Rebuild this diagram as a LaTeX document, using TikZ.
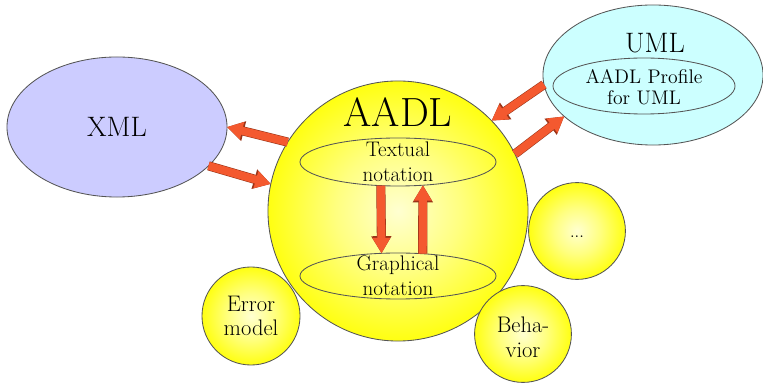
\documentclass[tikz,border=0pt]{standalone}
\usetikzlibrary{arrows.meta,positioning,shapes.geometric}
\definecolor{xmlblue}{HTML}{CCCCFF}
\definecolor{umlcyan}{HTML}{CCFFFF}
\definecolor{arrowred}{HTML}{F4592F}
\definecolor{arrowdark}{HTML}{9A3418}
\definecolor{rimgrey}{HTML}{555555}
\pgfdeclareradialshading{yellowball}{\pgfpoint{0bp}{0bp}}{color(0bp)=(yellow!18!white); color(12bp)=(yellow!50!white); color(27bp)=(yellow); color(50bp)=(yellow)}

\begin{document}
\begin{tikzpicture}[x=0.025cm,y=-0.025cm,
      ball/.style={circle,draw=rimgrey,line width=0.6pt,shading=yellowball,inner sep=0pt,outer sep=0pt},
      oval/.style={ellipse,draw=rimgrey,line width=0.6pt,inner sep=0pt,outer sep=0pt},
      lbl/.style={align=center,inner sep=0pt},
      blockarrow/.style={draw=arrowred,line width=5.7pt,-{Triangle[width=12pt,length=11pt]},
        preaction={draw=arrowdark,line width=6.5pt,-{Triangle[width=13.6pt,length=12.2pt]}}}]
    \useasboundingbox (0,0) rectangle (763,385);
    % outer languages
    \node[oval,fill=xmlblue,minimum width=5.5cm,minimum height=3.5cm,font=\fontsize{20}{22}\selectfont] (xml) at (117,127) {XML};
    \node[oval,fill=umlcyan,minimum width=5.5cm,minimum height=3.5cm] (uml) at (653,75) {};
    \node[lbl,font=\fontsize{20}{22}\selectfont] (umltitle) at (655,43) {UML};
    \node[oval,minimum width=4.55cm,minimum height=1.4cm] (profile) at (644,86) {};
    \node[lbl,font=\fontsize{14}{15}\selectfont] (profiletext) at (644,87) {AADL Profile\\for UML};
    % AADL core and annexes
    \node[ball,minimum size=6.5cm] (aadl) at (398,211) {};
    \node[ball,minimum size=2.45cm] (error) at (251,316) {};
    \node[ball,minimum size=2.42cm] (behavior) at (523,334) {};
    \node[ball,minimum size=2.42cm] (more) at (577,231) {};
    \node[lbl,font=\fontsize{29}{32}\selectfont] (aadltitle) at (398,112) {AADL};
    \node[oval,minimum width=4.9cm,minimum height=1.2cm] (textual) at (398,162) {};
    \node[oval,minimum width=4.9cm,minimum height=1.15cm] (graphical) at (398,276) {};
    \node[lbl,font=\fontsize{15}{17.8}\selectfont] (textualtext) at (398,162) {Textual\\notation};
    \node[lbl,font=\fontsize{15}{17.8}\selectfont] (graphicaltext) at (398,276) {Graphical\\notation};
    \node[lbl,font=\fontsize{16}{17.2}\selectfont] (errortext) at (251,316) {Error\\model};
    \node[lbl,font=\fontsize{16}{17.8}\selectfont] (behaviortext) at (523,337) {Beha-\\vior};
    \node[lbl,font=\fontsize{12}{14}\selectfont] (moretext) at (577,237) {...};
    % exchanges
    \draw[blockarrow] (aadl.148) -- (xml.east);
    \draw[blockarrow] (xml.-23) -- (aadl.168);
    \draw[blockarrow] (uml.185) -- (aadl.44);
    \draw[blockarrow] (aadl.26) -- (uml.205);
    \draw[blockarrow] (textual.-126) -- (graphical.126);
    \draw[blockarrow] (graphical.42) -- (textual.-43);
  \end{tikzpicture}
\end{document}
